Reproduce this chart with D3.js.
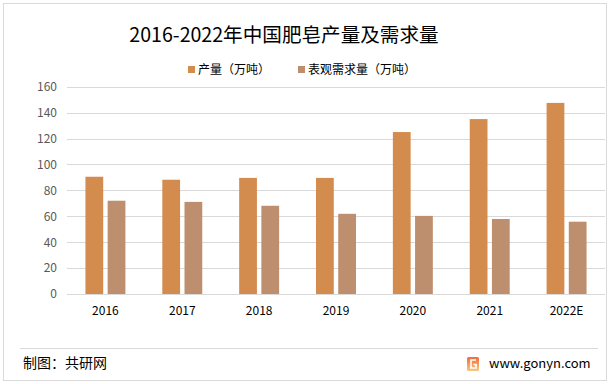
<!DOCTYPE html>
<html><head><meta charset="utf-8">
<script src="https://cdn.jsdelivr.net/npm/d3@7"></script>
<style>html,body{margin:0;padding:0;background:#fff;}svg{display:block;}</style>
</head><body>
<svg id="c" width="610" height="384"></svg>
<script>
const categories = ["2016","2017","2018","2019","2020","2021","2022E"];
const production = [90.5, 88.2, 89.6, 89.6, 125.0, 135.0, 147.5];
const demand = [72.0, 71.1, 68.1, 61.9, 60.3, 57.9, 55.8];
const seriesNames = ["产量（万吨）","表观需求量（万吨）"];
const yTicks = [0,20,40,60,80,100,120,140,160];
const colors = ["#D48B4E","#BE8F6E"];
const font = "'Microsoft YaHei','Noto Sans CJK SC','DejaVu Sans',sans-serif";

const svg = d3.select("#c");
svg.append("rect").attr("x",3.5).attr("y",3.5).attr("width",603).attr("height",377)
  .attr("fill","#fff").attr("stroke","#d9d9d9");

const x0 = d3.scaleBand().domain(categories).range([67,605]).paddingInner(0.48).paddingOuter(0.24);
const x1 = d3.scaleBand().domain([0,1]).range([0,x0.bandwidth()]).paddingInner(0.2);
const y = d3.scaleLinear().domain([0,160]).range([294,86.7]);

// grid
svg.append("g").selectAll("line").data(yTicks).join("line")
  .attr("x1",67).attr("x2",605).attr("y1",d=>Math.round(y(d))+0.5).attr("y2",d=>Math.round(y(d))+0.5)
  .attr("stroke","#d9d9d9").attr("stroke-width",1);

// y axis labels
const yAxis = d3.axisLeft(y).tickValues(yTicks).tickSize(0).tickPadding(0);
const ya = svg.append("g").attr("transform","translate(57,0)").call(yAxis);
ya.select(".domain").remove();
ya.selectAll("text").attr("fill","#595959").style("font-family",font).style("font-size","12px");

// x axis labels
const xAxis = d3.axisBottom(x0).tickSize(0).tickPadding(0);
const xa = svg.append("g").attr("transform","translate(0,306)").call(xAxis);
xa.select(".domain").remove();
xa.selectAll("text").attr("fill","#000").style("font-family",font).style("font-size","12px");

// bars
const data = categories.map((c,i)=>({c, v:[production[i],demand[i]]}));
const g = svg.append("g").selectAll("g").data(data).join("g")
  .attr("transform",d=>`translate(${x0(d.c)},0)`);
g.selectAll("rect").data(d=>d.v.map((v,k)=>({v,k}))).join("rect")
  .attr("x",d=>x1(d.k)).attr("width",x1.bandwidth())
  .attr("y",d=>y(d.v)).attr("height",d=>y(0)-y(d.v))
  .attr("fill",d=>colors[d.k]);

// title
svg.append("text").attr("x",284).attr("y",42).attr("text-anchor","middle")
  .style("font-family",font).style("font-size","19.6px").attr("fill","#000")
  .text("2016-2022年中国肥皂产量及需求量");

// legend
const legX = [188, 298];
seriesNames.forEach((n,i)=>{
  svg.append("rect").attr("x",legX[i]).attr("y",66).attr("width",7).attr("height",7).attr("fill",colors[i]);
  svg.append("text").attr("x",legX[i]+10).attr("y",74).style("font-family",font).style("font-size","12px")
    .attr("fill","#000").text(n);
});

// footer
svg.append("line").attr("x1",20).attr("x2",598).attr("y1",348.5).attr("y2",348.5).attr("stroke","#d9d9d9");
svg.append("text").attr("x",23).attr("y",368).style("font-family",font).style("font-size","14px")
  .attr("fill","#000").text("制图：共研网");
const lg = svg.append("g").attr("transform","translate(467,357)");
const grad = svg.append("defs").append("linearGradient").attr("id","lg").attr("x1",0).attr("y1",0).attr("x2",0).attr("y2",1);
grad.append("stop").attr("offset","0").attr("stop-color","#F26B3A");
grad.append("stop").attr("offset","1").attr("stop-color","#F9C77E");
lg.append("rect").attr("width",12).attr("height",14).attr("rx",1.5).attr("fill","url(#lg)");
lg.append("path").attr("d","M9,3 H4 V11 H9 V7.5 H6.5").attr("fill","none").attr("stroke","#fff").attr("stroke-width",1.6);
svg.append("text").attr("x",489).attr("y",368).style("font-family",font).style("font-size","13px")
  .attr("fill","#000").text("www.gonyn.com");
</script>
</body></html>
